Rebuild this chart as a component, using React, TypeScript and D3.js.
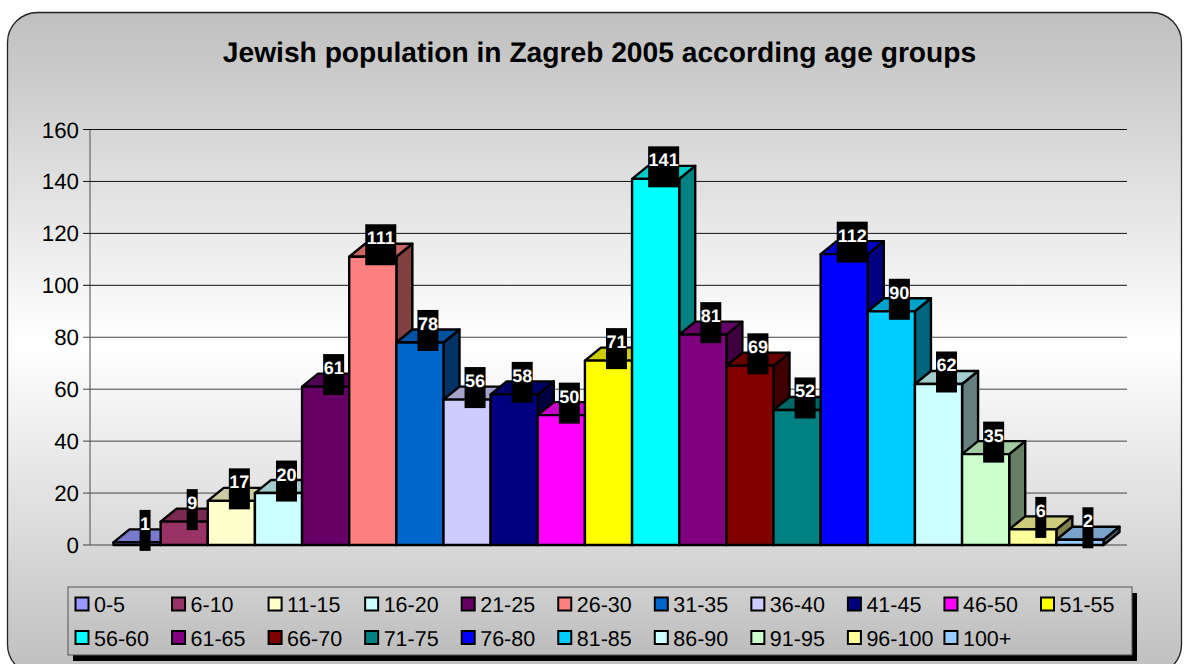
import React from "react";
import * as d3 from "d3";

const titleText = "Jewish population in Zagreb 2005 according age groups";
const categories = ["0-5","6-10","11-15","16-20","21-25","26-30","31-35","36-40","41-45","46-50","51-55","56-60","61-65","66-70","71-75","76-80","81-85","86-90","91-95","96-100","100+"];
const values = [1,9,17,20,61,111,78,56,58,50,71,141,81,69,52,112,90,62,35,6,2];
const colors = ["#9999FF","#993366","#FFFFCC","#CCFFFF","#660066","#FF8080","#0066CC","#CCCCFF","#000080","#FF00FF","#FFFF00","#00FFFF","#800080","#800000","#008080","#0000FF","#00CCFF","#CCFFFF","#CCFFCC","#FFFF99","#99CCFF"];
const yTicks = [0,20,40,60,80,100,120,140,160];

const FONT = "'Liberation Sans', Arial, sans-serif";
const DX = 16;
const DY = 13;

function shade(c: string, k: number) {
  const r = d3.rgb(c);
  return d3.rgb(r.r * k, r.g * k, r.b * k).formatHex();
}

export default function App() {
  const x = d3.scaleBand<string>().domain(categories).range([113.5, 1103.5]).padding(0);
  const y = d3.scaleLinear().domain([0, 160]).range([545, 129.5]);
  const bw = x.bandwidth();
  const base = y(0);

  return (
    <svg width={1190} height={664} style={{ position: "absolute", left: 0, top: 0, display: "block" }} fontFamily={FONT} textRendering="geometricPrecision">
      <defs>
        <linearGradient id="bg" x1="0" y1="0" x2="0" y2="1">
          <stop offset="0" stopColor="#bfbfbf" />
          <stop offset="0.5" stopColor="#ffffff" />
          <stop offset="1" stopColor="#bfbfbf" />
        </linearGradient>
        <linearGradient id="lg" x1="0" y1="0" x2="0" y2="1">
          <stop offset="0" stopColor="#d0d0d0" />
          <stop offset="1" stopColor="#bcbcbc" />
        </linearGradient>
      </defs>
      <rect x={7.5} y={12.5} width={1174} height={662} rx={30} ry={30} fill="url(#bg)" stroke="#222" strokeWidth={1.3} />
      <text x={599.5} y={62} textAnchor="middle" fontSize={28.2} fontWeight="bold" fill="#000">{titleText}</text>

      <line x1={90} x2={90} y1={y(160)} y2={base} stroke="#666" strokeWidth={1.2} />
      {yTicks.map((t) => (
        <g key={t}>
          <line x1={83} x2={1127} y1={y(t)} y2={y(t)} stroke={t >= 100 ? "#111" : "#444"} strokeWidth={1} />
          <text x={79} y={y(t) + 8} textAnchor="end" fontSize={22.3} fill="#000">{t}</text>
        </g>
      ))}

      {categories.map((c, i) => {
        const x0 = x(c)!;
        const x1 = x0 + bw;
        const t = y(values[i]);
        return (
          <g key={c} stroke="#000" strokeWidth={2.4} strokeLinejoin="round">
            <path d={`M${x1},${t}L${x1 + DX},${t - DY}V${base - DY}L${x1},${base}Z`} fill={shade(colors[i], 0.5)} />
            <path d={`M${x0},${t}L${x0 + DX},${t - DY}H${x1 + DX}L${x1},${t}Z`} fill={shade(colors[i], 0.8)} />
            <rect x={x0} y={t} width={bw} height={base - t} fill={colors[i]} />
          </g>
        );
      })}

      {categories.map((c, i) => {
        const cx = x(c)! + bw / 2 + DX / 2;
        const cy = y(values[i]) - DY;
        const label = String(values[i]);
        const w = label.length * 10 + 1;
        return (
          <g key={c}>
            <rect x={cx - w / 2} y={cy - 19.5} width={w} height={41} fill="#000" />
            <text x={cx} y={cy + 0.5} textAnchor="middle" fontSize={18} fontWeight="bold" fill="#fff">{label}</text>
          </g>
        );
      })}

      <rect x={73} y={593} width={1064} height={68} fill="#000" />
      <rect x={68} y={587} width={1064} height={68} fill="url(#lg)" stroke="#555" strokeWidth={1} />
      {categories.map((c, i) => {
        const col = i % 11;
        const row = Math.floor(i / 11);
        const lx = 75 + col * 96.55;
        const ly = 597 + row * 33.5;
        return (
          <g key={c}>
            <rect x={lx + 0.5} y={ly + 0.5} width={13} height={13} fill={colors[i]} stroke="#000" strokeWidth={2} />
            <text x={lx + 19} y={ly + 15} fontSize={21.5} fill="#000">{c}</text>
          </g>
        );
      })}
    </svg>
  );
}
